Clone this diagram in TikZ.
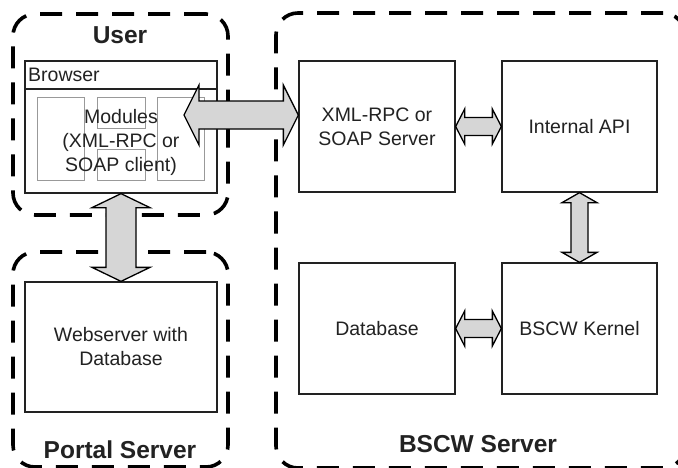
\documentclass[tikz,border=0pt]{standalone}
\usepackage{fontspec}
\setmainfont{Liberation Sans}
\usetikzlibrary{calc}
\definecolor{ink}{HTML}{222222}
\definecolor{arrowfill}{HTML}{D6D6D6}
\tikzset{
  box/.style={draw=ink, line width=1.3pt, align=center, inner sep=0pt,
    font=\fontsize{19.5}{24}\selectfont, text=ink},
  grp/.style={draw=black, line width=3.6pt, dash pattern=on 22pt off 14pt,
    rounded corners=22pt, inner sep=0pt},
  modbox/.style={draw=black!40, line width=1pt},
  grptitle/.style={font=\fontsize{24.5}{28}\selectfont\bfseries, text=ink, inner sep=0pt},
  plain/.style={font=\fontsize{19.5}{24}\selectfont, text=ink, align=center, inner sep=0pt},
  fatarrow/.style={draw=black, line width=1.3pt, fill=arrowfill, line join=miter},
  hfat/.style n args={3}{to path={let \p1=(\tikztostart), \p2=(\tikztotarget) in
    -- (\x1+#3,\y1+#2) -- (\x1+#3,\y1+#1) -- (\x2-#3,\y1+#1) -- (\x2-#3,\y1+#2)
    -- (\x2,\y1) -- (\x2-#3,\y1-#2) -- (\x2-#3,\y1-#1) -- (\x1+#3,\y1-#1)
    -- (\x1+#3,\y1-#2) -- cycle}},
  vfat/.style n args={3}{to path={let \p1=(\tikztostart), \p2=(\tikztotarget) in
    -- (\x1+#2,\y1-#3) -- (\x1+#1,\y1-#3) -- (\x1+#1,\y2+#3) -- (\x1+#2,\y2+#3)
    -- (\x1,\y2) -- (\x1-#2,\y2+#3) -- (\x1-#1,\y2+#3) -- (\x1-#1,\y1-#3)
    -- (\x1-#2,\y1-#3) -- cycle}},
}
\begin{document}
\begin{tikzpicture}[x=1pt,y=-1pt]
\useasboundingbox (0,0) rectangle (678,467);
\clip (0,0) rectangle (678,467);
\fill[white] (0,0) rectangle (678,467);

% groups
\node[grp, minimum width=215pt, minimum height=201pt] (usergrp) at (120.5,114.5) {};
\node[grp, minimum width=215pt, minimum height=215pt] (portalgrp) at (120.5,359.5) {};
\node[grp, minimum width=409pt, minimum height=455pt] (bscwgrp) at (480.5,240.5) {};

\node[grptitle] (usertitle) at (120,35) {User};
\node[grptitle] (portaltitle) at (120,450) {Portal Server};
\node[grptitle] (bscwtitle) at (478,444) {BSCW Server};

% browser
\node[box, minimum width=192pt, minimum height=132pt] (browser) at (121,127) {};
\draw[draw=ink, line width=1.3pt] (browser.west |- 0,89) -- (browser.east |- 0,89);
\node[plain, anchor=west] (browserlabel) at (28,75) {Browser};
\draw[modbox] (37,97) rectangle (84,180);
\draw[modbox] (97,97) rectangle (145,128);
\draw[modbox] (97,149) rectangle (145,180);
\draw[modbox] (157,97) rectangle (204,180);
\node[plain] (modules) at (121,142) {Modules\\(XML-RPC or\\SOAP client)};

% portal
\node[box, minimum width=192pt, minimum height=130pt] (web) at (121,347) {Webserver with\\Database};

% bscw
\node[box, minimum width=156pt, minimum height=131pt] (xml) at (377,126.5) {XML-RPC or\\SOAP Server};
\node[box, minimum width=155pt, minimum height=131pt] (api) at (579.5,126.5) {Internal API};
\node[box, minimum width=156pt, minimum height=131pt] (db) at (377,328.5) {Database};
\node[box, minimum width=155pt, minimum height=131pt] (kernel) at (579.5,328.5) {BSCW Kernel};

% arrows
\coordinate (bl) at (184,115);
\draw[fatarrow] (bl) to[hfat={14pt}{30pt}{15pt}] (xml.west |- bl);
\draw[fatarrow] (browser.south) to[vfat={15pt}{29pt}{14pt}] (web.north);
\draw[fatarrow] (xml.east) to[hfat={9pt}{17.5pt}{9pt}] (api.west);
\draw[fatarrow] (db.east) to[hfat={9pt}{17.5pt}{9pt}] (kernel.west);
\draw[fatarrow] (api.south) to[vfat={8.5pt}{17.5pt}{10pt}] (kernel.north);
\end{tikzpicture}
\end{document}
